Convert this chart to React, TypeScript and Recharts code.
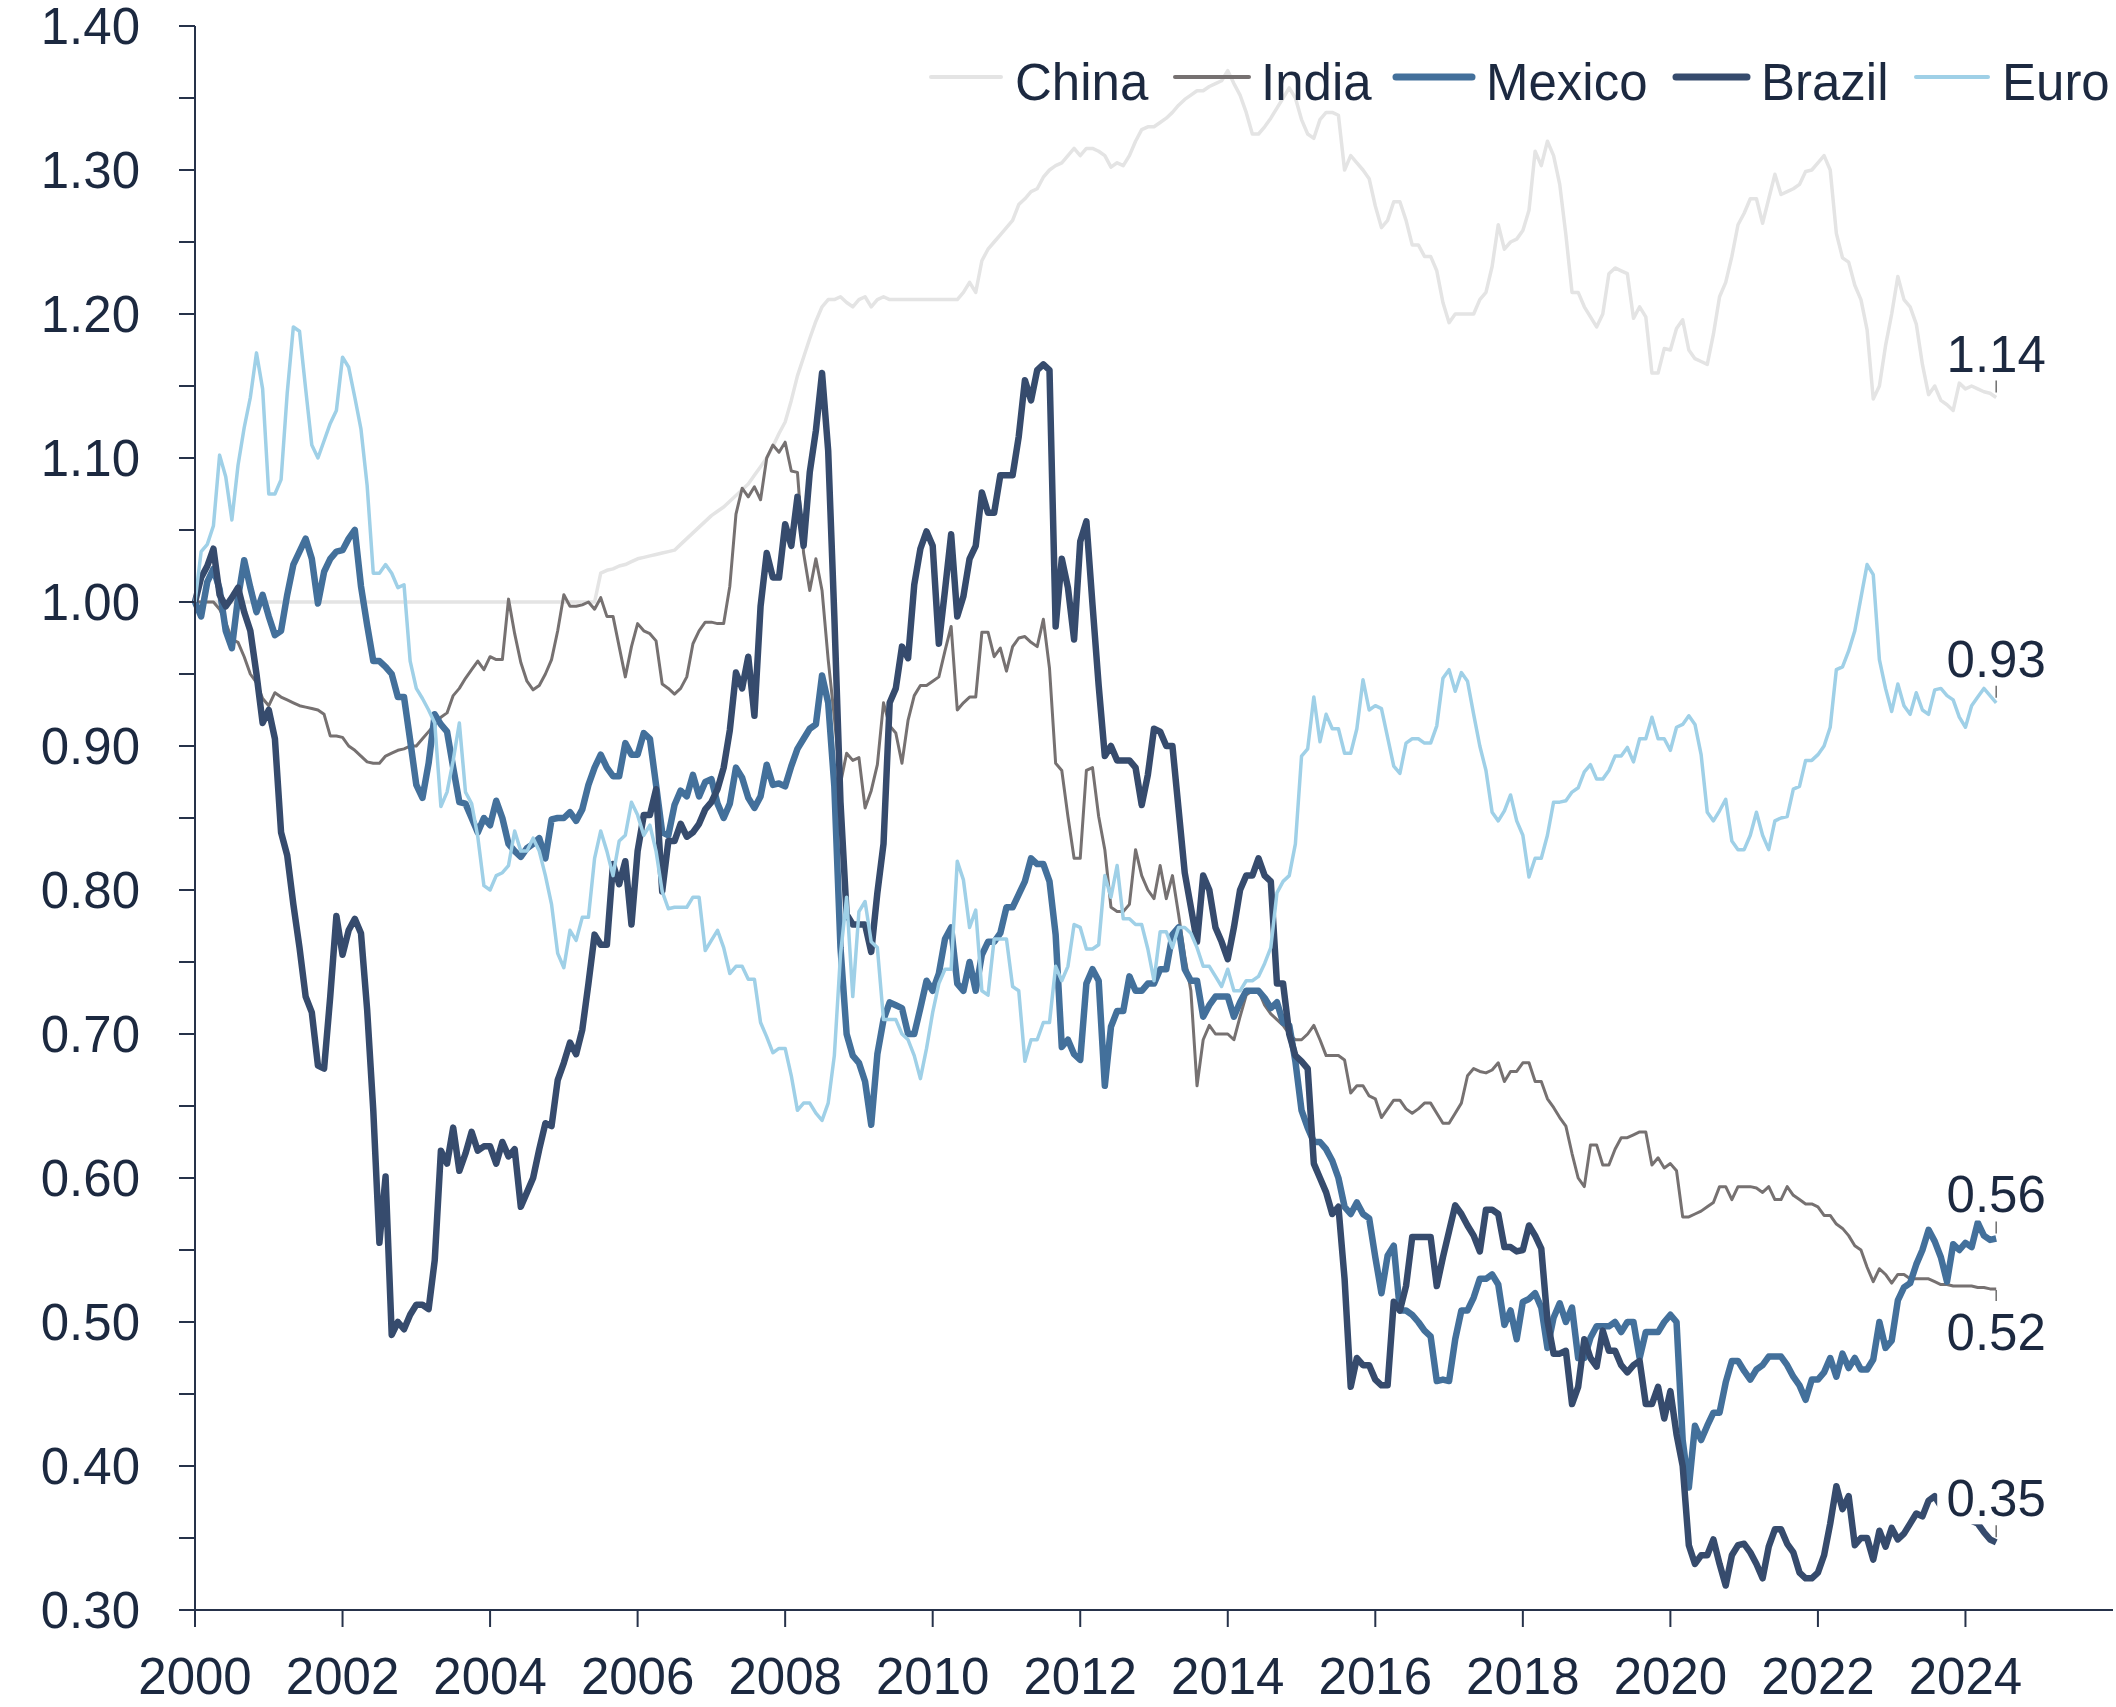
import React from 'react'
import { LineChart, Line, XAxis, YAxis, LabelList } from 'recharts'

// monthly index, Jan 2000 = 1.00, Jan 2000 .. Jun 2024
const china = [
  1, 1, 1, 1, 1, 1, 1, 1, 1, 1, 1, 1,
  1, 1, 1, 1, 1, 1, 1, 1, 1, 1, 1, 1,
  1, 1, 1, 1, 1, 1, 1, 1, 1, 1, 1, 1,
  1, 1, 1, 1, 1, 1, 1, 1, 1, 1, 1, 1,
  1, 1, 1, 1, 1, 1, 1, 1, 1, 1, 1, 1,
  1, 1, 1, 1, 1, 1, 1.02, 1.022, 1.023, 1.025, 1.026, 1.028,
  1.03, 1.031, 1.032, 1.033, 1.034, 1.035, 1.036, 1.04, 1.044, 1.048, 1.052, 1.056,
  1.06, 1.063, 1.066, 1.07, 1.074, 1.078, 1.082, 1.088, 1.094, 1.1, 1.108, 1.117,
  1.125, 1.14, 1.157, 1.17, 1.183, 1.195, 1.205, 1.21, 1.21, 1.212, 1.208, 1.205,
  1.21, 1.212, 1.205, 1.21, 1.212, 1.21, 1.21, 1.21, 1.21, 1.21, 1.21, 1.21,
  1.21, 1.21, 1.21, 1.21, 1.21, 1.215, 1.222, 1.215, 1.237, 1.245, 1.25, 1.255,
  1.26, 1.265, 1.276, 1.28, 1.285, 1.287, 1.295, 1.3, 1.303, 1.305, 1.31, 1.315,
  1.31, 1.315, 1.315, 1.313, 1.31, 1.302, 1.305, 1.303, 1.31, 1.32, 1.328, 1.33,
  1.33, 1.333, 1.336, 1.34, 1.345, 1.349, 1.352, 1.355, 1.355, 1.358, 1.36, 1.362,
  1.369, 1.36, 1.352, 1.34, 1.325, 1.325, 1.33, 1.336, 1.343, 1.35, 1.357, 1.35,
  1.335, 1.325, 1.322, 1.335, 1.34, 1.34, 1.338, 1.3, 1.31, 1.305, 1.3, 1.294,
  1.275, 1.26, 1.265, 1.278, 1.278, 1.265, 1.248, 1.248, 1.24, 1.24, 1.23, 1.208,
  1.194, 1.2, 1.2, 1.2, 1.2, 1.21, 1.215, 1.233, 1.262, 1.245, 1.25, 1.252,
  1.258, 1.272, 1.313, 1.303, 1.32, 1.31, 1.29, 1.255, 1.215, 1.215, 1.205, 1.198,
  1.191, 1.2, 1.228, 1.232, 1.23, 1.228, 1.197, 1.205, 1.198, 1.159, 1.159, 1.176,
  1.175, 1.19, 1.196, 1.175, 1.169, 1.167, 1.165, 1.186, 1.212, 1.222, 1.24, 1.262,
  1.27, 1.28, 1.28, 1.263, 1.28, 1.297, 1.283, 1.285, 1.287, 1.29, 1.299, 1.3,
  1.305, 1.31, 1.3, 1.256, 1.239, 1.236, 1.22, 1.21, 1.189, 1.141, 1.15, 1.178,
  1.2, 1.226, 1.21, 1.205, 1.193, 1.165, 1.144, 1.15, 1.14, 1.137, 1.133, 1.152,
  1.148, 1.15, 1.148, 1.146, 1.145, 1.142,
]

const india = [
  1, 1, 1, 1, 0.995, 0.986, 0.974, 0.972, 0.962, 0.95, 0.944, 0.933,
  0.928, 0.937, 0.934, 0.932, 0.93, 0.928, 0.927, 0.926, 0.925, 0.922, 0.907, 0.907,
  0.906, 0.9, 0.897, 0.893, 0.889, 0.888, 0.888, 0.893, 0.895, 0.897, 0.898, 0.9,
  0.9, 0.905, 0.91, 0.915, 0.92, 0.923, 0.935, 0.94, 0.947, 0.953, 0.959, 0.953,
  0.962, 0.96, 0.96, 1.002, 0.978, 0.958, 0.945, 0.939, 0.942, 0.95, 0.96, 0.98,
  1.005, 0.997, 0.997, 0.998, 1.0, 0.995, 1.003, 0.99, 0.99, 0.969, 0.948, 0.969,
  0.985, 0.98, 0.978, 0.973, 0.943, 0.94, 0.936, 0.94, 0.948, 0.971, 0.98, 0.986,
  0.986, 0.985, 0.985, 1.011, 1.061, 1.079, 1.073, 1.08, 1.071, 1.1, 1.109, 1.104,
  1.111, 1.091, 1.09, 1.034, 1.008, 1.03, 1.008, 0.96, 0.92, 0.874, 0.895, 0.89,
  0.892, 0.857, 0.869, 0.887, 0.93, 0.914, 0.909, 0.888, 0.918, 0.935, 0.942, 0.942,
  0.945, 0.948, 0.966, 0.983, 0.925, 0.93, 0.934, 0.934, 0.979, 0.979, 0.962, 0.968,
  0.952, 0.969, 0.975, 0.976, 0.972, 0.969, 0.988, 0.954, 0.888, 0.883, 0.851, 0.822,
  0.822, 0.883, 0.885, 0.851, 0.828, 0.788, 0.785, 0.785, 0.79, 0.828, 0.81, 0.8,
  0.794, 0.817, 0.794, 0.81, 0.783, 0.754, 0.73, 0.664, 0.696, 0.706, 0.7, 0.7,
  0.7, 0.696, 0.712, 0.727, 0.73, 0.73, 0.72, 0.714, 0.71, 0.706, 0.7, 0.696,
  0.696, 0.7, 0.706, 0.696, 0.685, 0.685, 0.685, 0.682, 0.659, 0.664, 0.664, 0.657,
  0.655, 0.642, 0.648, 0.654, 0.654, 0.648, 0.645, 0.648, 0.652, 0.652, 0.645, 0.638,
  0.638, 0.645, 0.652, 0.671, 0.676, 0.674, 0.673, 0.675, 0.68, 0.667, 0.674, 0.674,
  0.68, 0.68, 0.667, 0.667, 0.655, 0.649, 0.642, 0.636, 0.617, 0.6, 0.594, 0.623,
  0.623, 0.609, 0.609, 0.62, 0.628, 0.628, 0.63, 0.632, 0.632, 0.609, 0.614, 0.607,
  0.61, 0.605, 0.573, 0.573, 0.575, 0.577, 0.58, 0.583, 0.594, 0.594, 0.585, 0.594,
  0.594, 0.594, 0.593, 0.59, 0.594, 0.585, 0.585, 0.594, 0.588, 0.585, 0.582, 0.582,
  0.58, 0.574, 0.574, 0.568, 0.565, 0.56, 0.553, 0.55, 0.538, 0.528, 0.537, 0.533,
  0.527, 0.533, 0.533, 0.53, 0.53, 0.53, 0.53, 0.528, 0.526, 0.526, 0.525, 0.525,
  0.525, 0.525, 0.524, 0.524, 0.523, 0.523,
]

const mexico = [
  1, 0.99, 1.014, 1.023, 1.009, 0.98, 0.968, 1.003, 1.029, 1.01, 0.993, 1.005,
  0.99, 0.977, 0.98, 1.005, 1.026, 1.035, 1.044, 1.03, 0.999, 1.021, 1.03, 1.035,
  1.036, 1.044, 1.05, 1.011, 0.984, 0.959, 0.959, 0.955, 0.95, 0.934, 0.934, 0.904,
  0.873, 0.864, 0.888, 0.922, 0.915, 0.91, 0.885, 0.861, 0.86, 0.85, 0.84, 0.85,
  0.845, 0.862, 0.85, 0.832, 0.827, 0.823, 0.829, 0.832, 0.836, 0.822, 0.849, 0.85,
  0.85, 0.854, 0.848, 0.856, 0.873, 0.885, 0.894, 0.885, 0.879, 0.879, 0.902, 0.894,
  0.894, 0.909, 0.905, 0.873, 0.84, 0.838, 0.859, 0.869, 0.865, 0.88, 0.865, 0.875,
  0.877, 0.86, 0.85, 0.86, 0.885, 0.878, 0.864, 0.857, 0.865, 0.887, 0.873, 0.874,
  0.872, 0.886, 0.898, 0.905, 0.912, 0.915, 0.949, 0.93, 0.872, 0.76, 0.7, 0.685,
  0.68, 0.667, 0.637, 0.686, 0.71, 0.722, 0.72, 0.718, 0.7, 0.7, 0.718, 0.737,
  0.73, 0.742, 0.766, 0.774, 0.735, 0.73, 0.75, 0.73, 0.755, 0.764, 0.764, 0.77,
  0.788, 0.788, 0.797, 0.806, 0.822, 0.818, 0.818, 0.806, 0.769, 0.691, 0.696, 0.686,
  0.682, 0.735, 0.745, 0.737, 0.664, 0.705, 0.716, 0.716, 0.74, 0.73, 0.73, 0.735,
  0.735, 0.745, 0.745, 0.769, 0.774, 0.745, 0.737, 0.737, 0.712, 0.72, 0.726, 0.726,
  0.726, 0.712, 0.722, 0.73, 0.73, 0.73, 0.725, 0.718, 0.722, 0.708, 0.706, 0.681,
  0.647, 0.635, 0.625, 0.625, 0.62, 0.612, 0.6, 0.58, 0.575, 0.583, 0.575, 0.572,
  0.545, 0.52, 0.546, 0.553, 0.508, 0.508, 0.505, 0.5, 0.494, 0.49, 0.459, 0.46,
  0.459, 0.488, 0.508, 0.508, 0.517, 0.53, 0.53, 0.533, 0.526, 0.498, 0.508, 0.488,
  0.514, 0.516, 0.52, 0.51, 0.482, 0.503, 0.513, 0.5, 0.51, 0.475, 0.475, 0.489,
  0.497, 0.497, 0.497, 0.5, 0.493, 0.5, 0.5, 0.475, 0.493, 0.493, 0.493, 0.5,
  0.505, 0.5, 0.418, 0.385, 0.428, 0.418, 0.428, 0.437, 0.437, 0.458, 0.473, 0.473,
  0.466, 0.46, 0.467, 0.47, 0.476, 0.476, 0.476, 0.47, 0.462, 0.456, 0.446, 0.46,
  0.46, 0.465, 0.475, 0.462, 0.478, 0.468, 0.475, 0.467, 0.467, 0.474, 0.5, 0.482,
  0.487, 0.515, 0.524, 0.527, 0.54, 0.55, 0.564, 0.556, 0.545, 0.528, 0.554, 0.55,
  0.555, 0.552, 0.569, 0.56, 0.557, 0.558,
]

const brazil = [
  1, 1.017, 1.025, 1.037, 1.005, 0.997, 1.003, 1.01, 0.993, 0.98, 0.95, 0.916,
  0.925, 0.905, 0.84, 0.824, 0.79, 0.76, 0.726, 0.715, 0.678, 0.676, 0.726, 0.782,
  0.755, 0.772, 0.78, 0.77, 0.717, 0.647, 0.555, 0.601, 0.491, 0.5, 0.495, 0.505,
  0.512, 0.512, 0.509, 0.543, 0.619, 0.61, 0.635, 0.605, 0.617, 0.632, 0.619, 0.622,
  0.622, 0.61, 0.625, 0.615, 0.62, 0.58, 0.59, 0.6, 0.62, 0.638, 0.636, 0.668,
  0.68, 0.694, 0.686, 0.703, 0.735, 0.769, 0.762, 0.762, 0.818, 0.804, 0.82, 0.776,
  0.827, 0.852, 0.852, 0.87, 0.799, 0.834, 0.834, 0.846, 0.837, 0.84, 0.846, 0.856,
  0.861, 0.87, 0.885, 0.911, 0.951, 0.94, 0.962, 0.921, 0.997, 1.034, 1.017, 1.017,
  1.054, 1.039, 1.073, 1.039, 1.09, 1.119, 1.159, 1.105, 0.99, 0.861, 0.783, 0.776,
  0.776, 0.776, 0.757, 0.798, 0.832, 0.93, 0.94, 0.969, 0.961, 1.012, 1.037, 1.049,
  1.039, 0.971, 1.008, 1.047, 0.99, 1.004, 1.03, 1.039, 1.076, 1.062, 1.062, 1.088,
  1.088, 1.088, 1.115, 1.154, 1.14, 1.161, 1.165, 1.161, 0.983, 1.03, 1.01, 0.974,
  1.042, 1.056, 0.998, 0.942, 0.893, 0.9, 0.89, 0.89, 0.89, 0.885, 0.859, 0.88,
  0.912, 0.91, 0.9, 0.9, 0.856, 0.812, 0.788, 0.764, 0.81, 0.8, 0.774, 0.764,
  0.752, 0.774, 0.8, 0.81, 0.81, 0.822, 0.81, 0.806, 0.735, 0.735, 0.7, 0.685,
  0.681, 0.676, 0.61, 0.6, 0.59, 0.575, 0.58, 0.53, 0.455, 0.475, 0.47, 0.47,
  0.46, 0.456, 0.456, 0.514, 0.508, 0.525, 0.559, 0.559, 0.559, 0.559, 0.525, 0.545,
  0.563, 0.581, 0.575, 0.567, 0.56, 0.549, 0.578, 0.578, 0.575, 0.552, 0.552, 0.549,
  0.55, 0.567, 0.56, 0.551, 0.501, 0.478, 0.478, 0.48, 0.443, 0.455, 0.488, 0.475,
  0.469, 0.494, 0.48, 0.48, 0.47, 0.465, 0.47, 0.473, 0.443, 0.443, 0.455, 0.433,
  0.452, 0.422, 0.4, 0.345, 0.332, 0.338, 0.338, 0.349, 0.332, 0.317, 0.338, 0.345,
  0.346, 0.34, 0.332, 0.322, 0.344, 0.356, 0.356, 0.346, 0.34, 0.326, 0.322, 0.322,
  0.326, 0.338, 0.36, 0.386, 0.37, 0.379, 0.345, 0.35, 0.35, 0.335, 0.355, 0.344,
  0.357, 0.349, 0.353, 0.36, 0.367, 0.365, 0.376, 0.379, 0.372, 0.37, 0.372, 0.37,
  0.365, 0.362, 0.36, 0.354, 0.349, 0.347,
]

const euro = [
  1, 1.035, 1.04, 1.053, 1.102, 1.087, 1.057, 1.095, 1.121, 1.142, 1.173, 1.148,
  1.075, 1.075, 1.085, 1.145, 1.191, 1.188, 1.148, 1.109, 1.1, 1.112, 1.124, 1.133,
  1.17, 1.163, 1.142, 1.12, 1.081, 1.02, 1.02, 1.026, 1.02, 1.01, 1.012, 0.959,
  0.94, 0.933, 0.925, 0.916, 0.858, 0.868, 0.89, 0.916, 0.868, 0.86, 0.837, 0.803,
  0.8, 0.81, 0.812, 0.817, 0.841, 0.827, 0.827, 0.836, 0.827, 0.81, 0.79, 0.756,
  0.746, 0.772, 0.765, 0.781, 0.781, 0.822, 0.841, 0.827, 0.81, 0.834, 0.838, 0.861,
  0.852, 0.838, 0.845, 0.827, 0.799, 0.787, 0.788, 0.788, 0.788, 0.795, 0.795, 0.758,
  0.765, 0.772, 0.76, 0.742, 0.747, 0.747, 0.738, 0.738, 0.708, 0.698, 0.687, 0.69,
  0.69, 0.671, 0.647, 0.652, 0.652, 0.645, 0.64, 0.652, 0.685, 0.755, 0.795, 0.726,
  0.785, 0.792, 0.764, 0.76, 0.71, 0.71, 0.71, 0.7, 0.696, 0.685, 0.669, 0.69,
  0.715, 0.735, 0.745, 0.745, 0.82, 0.807, 0.774, 0.786, 0.73, 0.727, 0.766, 0.766,
  0.766, 0.733, 0.73, 0.681, 0.696, 0.696, 0.708, 0.708, 0.747, 0.737, 0.747, 0.776,
  0.774, 0.759, 0.759, 0.762, 0.81, 0.795, 0.817, 0.78, 0.78, 0.776, 0.776, 0.759,
  0.737, 0.771, 0.771, 0.76, 0.774, 0.774, 0.77, 0.76, 0.747, 0.747, 0.74, 0.733,
  0.745, 0.73, 0.73, 0.737, 0.737, 0.74, 0.749, 0.76, 0.798, 0.806, 0.81, 0.832,
  0.893, 0.898, 0.934, 0.903, 0.922, 0.912, 0.912, 0.895, 0.895, 0.912, 0.946, 0.925,
  0.928, 0.926, 0.906, 0.886, 0.881, 0.902, 0.905, 0.905, 0.902, 0.902, 0.914, 0.947,
  0.953, 0.938, 0.951, 0.945, 0.922, 0.9, 0.883, 0.854, 0.848, 0.855, 0.866, 0.848,
  0.838, 0.809, 0.822, 0.822, 0.838, 0.861, 0.861, 0.862, 0.868, 0.871, 0.882, 0.887,
  0.877, 0.877, 0.883, 0.893, 0.893, 0.899, 0.889, 0.905, 0.905, 0.92, 0.905, 0.905,
  0.897, 0.913, 0.915, 0.921, 0.915, 0.894, 0.854, 0.848, 0.855, 0.863, 0.834, 0.828,
  0.828, 0.838, 0.854, 0.838, 0.828, 0.848, 0.85, 0.851, 0.87, 0.872, 0.89, 0.89,
  0.894, 0.9, 0.913, 0.953, 0.955, 0.966, 0.98, 1.003, 1.026, 1.019, 0.96, 0.94,
  0.924, 0.943, 0.928, 0.922, 0.937, 0.925, 0.922, 0.939, 0.94, 0.935, 0.932, 0.92,
  0.913, 0.928, 0.934, 0.94, 0.935, 0.93,
]

const yearTicks = [2000, 2002, 2004, 2006, 2008, 2010, 2012, 2014, 2016, 2018, 2020, 2022, 2024]
const valueTicks = [0.3, 0.35, 0.4, 0.45, 0.5, 0.55, 0.6, 0.65, 0.7, 0.75, 0.8, 0.85, 0.9, 0.95, 1.0, 1.05, 1.1, 1.15, 1.2, 1.25, 1.3, 1.35, 1.4]

const TEXT = '#1c2940'
const AXIS = '#26324a'
const FONT = '"Liberation Sans", Arial, sans-serif'

const series = [
  { key: 'China', color: '#e4e4e4', width: 3.5, below: false },
  { key: 'India', color: '#767171', width: 3, below: true },
  { key: 'Mexico', color: '#43709b', width: 6.5, below: false },
  { key: 'Brazil', color: '#364b6d', width: 6.5, below: false },
  { key: 'Euro', color: '#9fd0e7', width: 3.5, below: false },
]

const data = china.map((v, i) => ({
  t: 2000 + i / 12,
  China: v,
  India: india[i],
  Mexico: mexico[i],
  Brazil: brazil[i],
  Euro: euro[i],
}))

const LAST = china.length - 1

function endLabel(below: boolean) {
  return (props: any) => {
    const { index, value } = props
    if (index !== LAST) return null
    const px = props.x ?? props.viewBox?.x
    const py = props.y ?? props.viewBox?.y
    const base = below ? py + 61 : py - 26
    const boxTop = below ? py + 19 : py - 70
    return (
      <g>
        <rect x={px - 59} y={boxTop} width={114} height={52} fill="#ffffff" />
        <text x={px} y={base} textAnchor="middle" fontSize={51} fontFamily={FONT} fill={TEXT}>
          {Number(value).toFixed(2)}
        </text>
        <line x1={px} x2={px} y1={below ? py + 1 : py - 17} y2={below ? py + 12 : py - 5} stroke="#6d6d6d" strokeWidth={1.5} />
      </g>
    )
  }
}

const legendItems = [
  { key: 'China', x1: 931, x2: 1001, tx: 1015 },
  { key: 'India', x1: 1175, x2: 1249, tx: 1261 },
  { key: 'Mexico', x1: 1396, x2: 1472, tx: 1486 },
  { key: 'Brazil', x1: 1676, x2: 1747, tx: 1761 },
  { key: 'Euro', x1: 1916, x2: 1988, tx: 2002 },
]

export default function App() {
  return (
    <div style={{ position: 'absolute', left: 0, top: 0, width: 2116, height: 1707, background: '#fff' }}>
      <LineChart width={2116} height={1707} data={data} margin={{ top: 26, right: 3, bottom: 0, left: 0 }}>
        <XAxis
          dataKey="t"
          type="number"
          domain={[2000, 2026]}
          ticks={yearTicks}
          interval={0}
          height={97}
          tickSize={17}
          tickMargin={31}
          axisLine={{ stroke: AXIS, strokeWidth: 2 }}
          tickLine={{ stroke: AXIS, strokeWidth: 2 }}
          tick={{ fontSize: 51, fill: TEXT, fontFamily: FONT }}
        />
        <YAxis
          type="number"
          domain={[0.3, 1.4]}
          ticks={valueTicks}
          interval={0}
          width={195}
          tickSize={16}
          tickMargin={39}
          axisLine={{ stroke: AXIS, strokeWidth: 2 }}
          tickLine={{ stroke: AXIS, strokeWidth: 2 }}
          tick={{ fontSize: 51, fill: TEXT, fontFamily: FONT }}
          tickFormatter={(v: number) => (Math.round(v * 100) % 10 === 0 ? v.toFixed(2) : '')}
        />
        {series.map((s) => (
          <Line
            key={s.key}
            type="linear"
            dataKey={s.key}
            stroke={s.color}
            strokeWidth={s.width}
            strokeLinejoin="round"
            dot={false}
            activeDot={false}
            isAnimationActive={false}
          >
            <LabelList dataKey={s.key} content={endLabel(s.below)} />
          </Line>
        ))}
      </LineChart>
      <svg width={2116} height={130} style={{ position: 'absolute', left: 0, top: 0 }}>
        {legendItems.map((it) => {
          const s = series.find((d) => d.key === it.key)!
          return (
            <g key={it.key}>
              <line x1={it.x1} x2={it.x2} y1={77} y2={77} stroke={s.color} strokeWidth={s.width > 5 ? 7 : 4} strokeLinecap="round" />
              <text x={it.tx} y={100} fontSize={51} fontFamily={FONT} fill={TEXT}>{it.key}</text>
            </g>
          )
        })}
      </svg>
    </div>
  )
}
